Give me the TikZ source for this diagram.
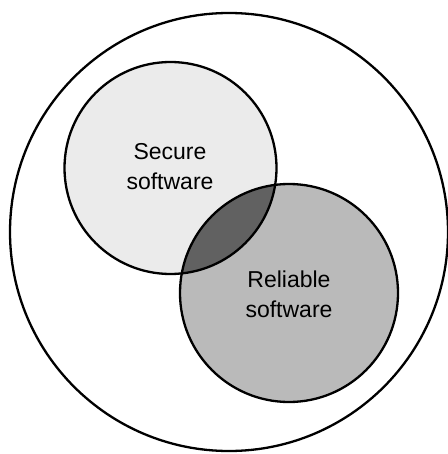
\documentclass[tikz,border=0pt]{standalone}
\usepackage{fontspec}
\setmainfont{Liberation Sans}
\begin{document}
\begin{tikzpicture}[x=1pt,y=-1pt,
  ring/.style={draw=black,line width=2.3pt},
  lbl/.style={font=\fontsize{23}{30}\selectfont,align=center,inner sep=0pt}]
\useasboundingbox (0,0) rectangle (447,454);
\fill[black!8] (170.5,168) circle[radius=106];
\fill[black!27] (289,293) circle[radius=109];
\begin{scope}
\clip (170.5,168) circle[radius=106];
\fill[black!62] (289,293) circle[radius=109];
\end{scope}
\node[circle,minimum size=438pt,ring,inner sep=0pt] (universe) at (229,232) {};
\node[circle,minimum size=212pt,ring,inner sep=0pt] (secure) at (170.5,168) {};
\node[circle,minimum size=218pt,ring,inner sep=0pt] (reliable) at (289,293) {};
\node[lbl] (securelbl) at (170,167) {Secure\\software};
\node[lbl] (reliablelbl) at (289,294) {Reliable\\software};
\end{tikzpicture}
\end{document}
